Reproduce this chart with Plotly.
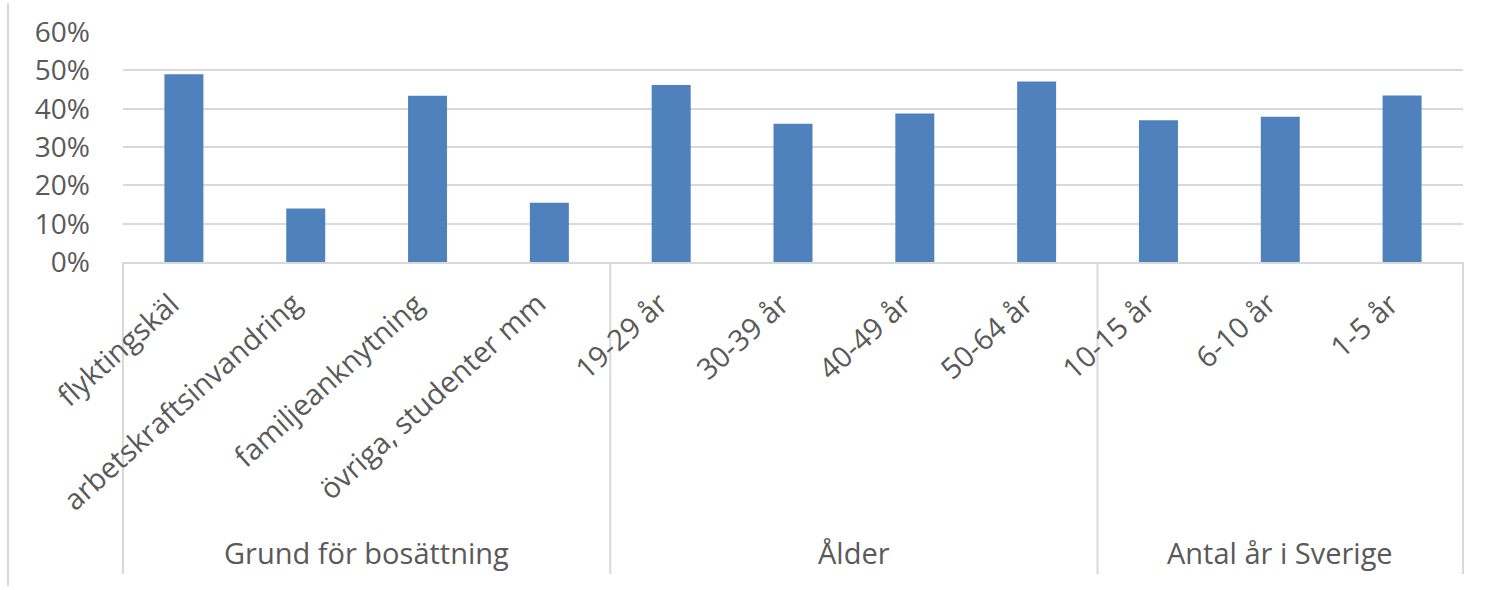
import plotly.graph_objects as go

# ---- data ----
groups = ["Grund för bosättning", "Ålder", "Antal år i Sverige"]
group_sizes = [4, 4, 3]
categories = ["flyktingskäl", "arbetskraftsinvandring", "familjeanknytning",
              "övriga, studenter mm", "19-29 år", "30-39 år", "40-49 år",
              "50-64 år", "10-15 år", "6-10 år", "1-5 år"]
values = [0.49, 0.14, 0.434, 0.155, 0.462, 0.361, 0.388, 0.471, 0.370, 0.379, 0.435]
y_ticks = [0, 0.1, 0.2, 0.3, 0.4, 0.5, 0.6]
y_ticklabels = ["0%", "10%", "20%", "30%", "40%", "50%", "60%"]

# ---- layout constants ----
W, H = 1494, 590
ML, MR, MT, MB = 123, 31, 29, 328
PH = H - MT - MB
PW = W - ML - MR
FONT = "Open Sans"
TXT = "#595959"
GRID = "#d9d9d9"
BAR = "#4f81bd"

def py(pix):
    """pixel y (from top) -> paper y"""
    return (H - MB - pix) / PH

def px(pix):
    return (pix - ML) / PW

fig = go.Figure()
fig.add_trace(go.Bar(x=categories, y=values, marker=dict(color=BAR, line=dict(width=0)),
                     showlegend=False, hoverinfo="x+y"))

annotations = []
for c in categories:
    annotations.append(dict(x=c, xref="x", y=py(281), yref="paper", text=c,
                            showarrow=False, textangle=-42, xanchor="right",
                            yanchor="top", xshift=6,
                            font=dict(family=FONT, size=29, color=TXT)))

shapes = []
n = len(categories)
start = 0
bounds = [0]
for g, s in zip(groups, group_sizes):
    mid = (start + start + s - 1) / 2
    annotations.append(dict(x=mid, xref="x", y=py(556), yref="paper", text=g,
                            showarrow=False, xanchor="center", yanchor="middle",
                            font=dict(family=FONT, size=29, color=TXT)))
    start += s
    bounds.append(start)

for b in bounds:
    xp = b / n
    shapes.append(dict(type="line", xref="paper", yref="paper", x0=xp, x1=xp,
                       y0=0, y1=py(578), line=dict(color=GRID, width=2)))

# outer chart border on the left
shapes.append(dict(type="line", xref="paper", yref="paper", x0=px(8), x1=px(8),
                   y0=py(0), y1=py(H), line=dict(color=GRID, width=2)))

fig.update_layout(
    width=W, height=H,
    margin=dict(l=ML, r=MR, t=MT, b=MB),
    paper_bgcolor="white", plot_bgcolor="white",
    bargap=0.68,
    font=dict(family=FONT, color=TXT),
    xaxis=dict(type="category", showticklabels=False, showgrid=False,
               showline=True, linecolor=GRID, linewidth=2, ticks="",
               range=[-0.5, n - 0.5], fixedrange=True),
    yaxis=dict(range=[0, 0.6005], tickvals=y_ticks, ticktext=y_ticklabels,
               showgrid=True, gridcolor=GRID, gridwidth=2, zeroline=False,
               showline=False, ticks="", ticklabelstandoff=32,
               tickfont=dict(family=FONT, size=28, color=TXT), fixedrange=True),
    annotations=annotations,
    shapes=shapes,
)

fig.write_html("out.html")
